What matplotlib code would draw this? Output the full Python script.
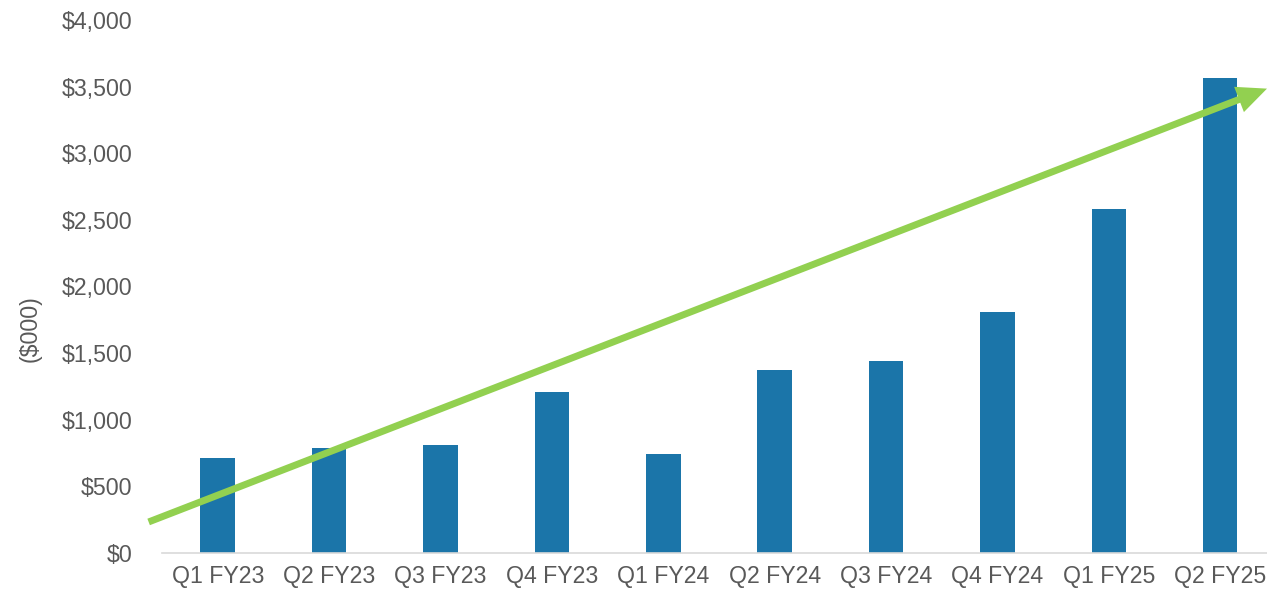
import matplotlib.pyplot as plt
from matplotlib.patches import FancyArrowPatch

plt.rcParams['font.family'] = ['Liberation Sans', 'DejaVu Sans']

trimestres = ['Q1 FY23', 'Q2 FY23', 'Q3 FY23', 'Q4 FY23', 'Q1 FY24',
              'Q2 FY24', 'Q3 FY24', 'Q4 FY24', 'Q1 FY25', 'Q2 FY25']
valores = [710, 785, 810, 1208, 743, 1373, 1441, 1809, 2582, 3565]
y_ticks = [0, 500, 1000, 1500, 2000, 2500, 3000, 3500, 4000]
tendencia_x = [-0.62, 9.42]
tendencia_y = [233, 3485]

gris = '#595959'
fig = plt.figure(figsize=(12.67, 5.98), dpi=100)
ax = fig.add_axes([162 / 1267, 45 / 598, 1105 / 1267, 533 / 598])

ax.bar(range(len(trimestres)), valores, width=0.31, color='#1B75A9')
ax.set_xlim(-0.5, 9.42)
ax.set_ylim(0, 4000)
ax.set_xticks(range(len(trimestres)))
ax.set_xticklabels(trimestres)
ax.set_yticks(y_ticks)
ax.set_yticklabels([f'${v:,}' for v in y_ticks])
ax.tick_params(axis='both', length=0, labelsize=16.7, colors=gris)
ax.tick_params(axis='y', pad=21.5)
ax.tick_params(axis='x', pad=9)
for lado in ['top', 'right', 'left']:
    ax.spines[lado].set_visible(False)
ax.spines['bottom'].set_color('#d9d9d9')
ax.spines['bottom'].set_linewidth(1.2)

# flecha de tendencia
flecha = FancyArrowPatch((tendencia_x[0], tendencia_y[0]),
                         (tendencia_x[1], tendencia_y[1]),
                         arrowstyle='simple,head_length=21.6,head_width=19.5,tail_width=5',
                         mutation_scale=1, color='#92D050', lw=0,
                         shrinkA=0, shrinkB=0, clip_on=False)
ax.add_patch(flecha)

fig.text(30 / 1267, 1 - 329 / 598, '($000)', rotation=90, ha='center',
         va='center', fontsize=16.7, color=gris)

fig.savefig('out.png', dpi=100)
